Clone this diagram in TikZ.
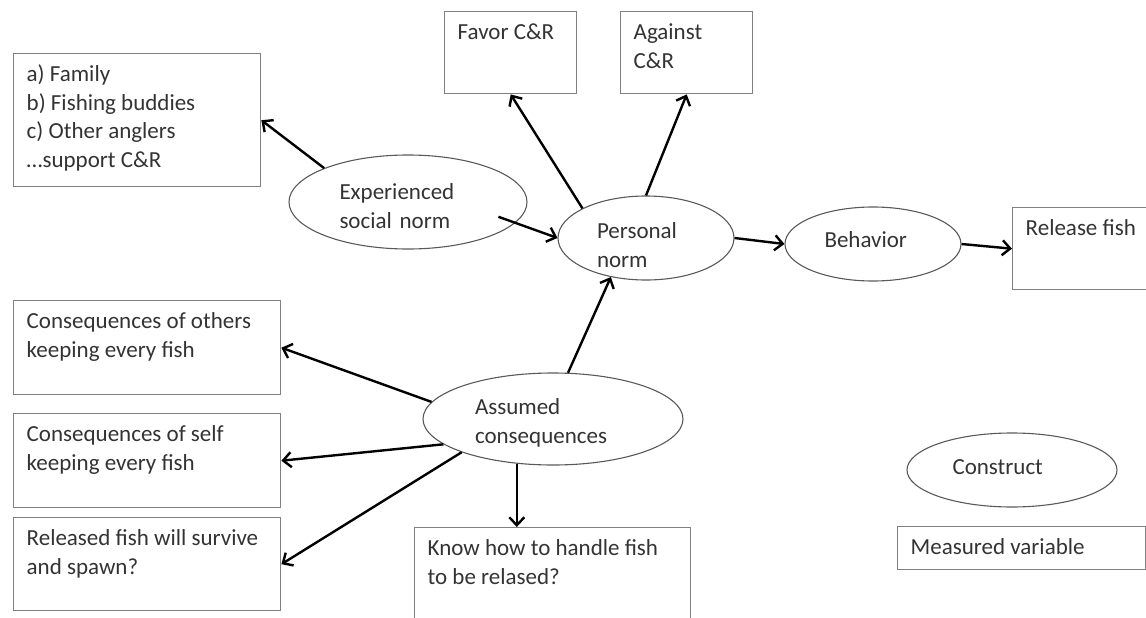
\documentclass[tikz,border=0pt]{standalone}
\usepackage{fontspec}
\setmainfont{Carlito}
\usetikzlibrary{shapes.geometric,arrows.meta}
\newcommand{\boxtxt}[3]{\parbox[t][#2][t]{#1}{\raggedright\strut #3}}

\begin{document}
\begin{tikzpicture}[x=1pt,y=-1pt,>={Straight Barb[length=8pt,width=15pt]}]
\tikzstyle{every node}=[font=\fontsize{23}{28.5}\selectfont,text=black!80]
\tikzstyle{measured}=[draw=black!50,line width=1.4pt,anchor=north west,inner xsep=13pt,inner ysep=8pt]
\tikzstyle{construct}=[draw=black!65,line width=1.1pt,ellipse,inner sep=0pt,align=left]
\tikzstyle{arr}=[->,line width=2.4pt]
\useasboundingbox (0,0) rectangle (1146,618);
\clip (0,0) rectangle (1146,618);
% measured variables
\node[measured] (social) at (13,53) {\boxtxt{221pt}{117pt}{a) Family\\b) Fishing buddies\\c) Other anglers\\…support C\&R}};
\node[measured] (favor) at (444,11) {\boxtxt{106pt}{66pt}{Favor C\&R}};
\node[measured] (against) at (620,11) {\boxtxt{106pt}{66pt}{Against\\C\&R}};
\node[measured] (others) at (13,300) {\boxtxt{241pt}{78pt}{Consequences of others\\keeping every fish}};
\node[measured] (self) at (13,413) {\boxtxt{241pt}{78pt}{Consequences of self\\keeping every fish}};
\node[measured] (survive) at (13,517) {\boxtxt{241pt}{77pt}{Released fish will survive\\and spawn?}};
\node[measured] (handle) at (414,527) {\boxtxt{250pt}{98pt}{Know how to handle fish\\to be relased?}};
\node[measured] (release) at (1012,207) {\boxtxt{127pt}{66pt}{Release fish}};
% constructs
\node[construct,minimum width=238pt,minimum height=94pt,text width=137pt] (experienced) at (408,202) {\rule{0pt}{24pt}Experienced\\social norm};
\node[construct,minimum width=176pt,minimum height=84pt,text width=98pt] (personal) at (646,238) {\rule{0pt}{30pt}Personal\\norm};
\node[construct,minimum width=176pt,minimum height=74pt,text width=97pt] (behavior) at (873,244) {Behavior\rule[-8pt]{0pt}{8pt}};
\node[construct,minimum width=260pt,minimum height=92pt,text width=156pt] (assumed) at (553,419) {\rule{0pt}{24pt}Assumed\\consequences};
% legend
\node[construct,minimum width=210pt,minimum height=74pt,text width=119pt] (legendell) at (1012,470) {Construct\rule[-6pt]{0pt}{6pt}};
\node[measured] (legendbox) at (897,526) {\boxtxt{222pt}{27pt}{Measured variable}};
% paths
\draw[arr] (experienced.158) -- (social.east);
\draw[arr,shorten <=-18pt] (experienced.-11) -- (personal.west);
\draw[arr] (personal.155) -- (favor.south);
\draw[arr] (personal.north) -- (against.south);
\draw[arr] (personal.east) -- (behavior.west);
\draw[arr] (behavior.east) -- (release.west);
\draw[arr] (assumed.72) -- (personal.228);
\draw[arr] (assumed.172) -- (others.east);
\draw[arr] (assumed.193) -- (self.east);
\draw[arr] (assumed.200) -- (survive.east);
\draw[arr] (assumed.231) -- (assumed.231 |- handle.north);
\end{tikzpicture}
\end{document}
